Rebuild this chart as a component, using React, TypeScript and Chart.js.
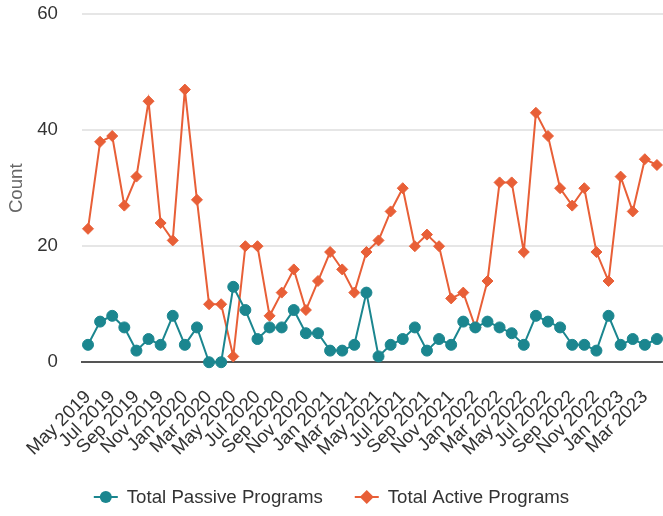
import React, { useEffect, useRef } from "react";
import { Chart, registerables } from "chart.js";

Chart.register(...registerables);

const months: string[] = [
  "May 2019", "Jun 2019", "Jul 2019", "Aug 2019", "Sep 2019", "Oct 2019", "Nov 2019", "Dec 2019",
  "Jan 2020", "Feb 2020", "Mar 2020", "Apr 2020", "May 2020", "Jun 2020", "Jul 2020", "Aug 2020",
  "Sep 2020", "Oct 2020", "Nov 2020", "Dec 2020", "Jan 2021", "Feb 2021", "Mar 2021", "Apr 2021",
  "May 2021", "Jun 2021", "Jul 2021", "Aug 2021", "Sep 2021", "Oct 2021", "Nov 2021", "Dec 2021",
  "Jan 2022", "Feb 2022", "Mar 2022", "Apr 2022", "May 2022", "Jun 2022", "Jul 2022", "Aug 2022",
  "Sep 2022", "Oct 2022", "Nov 2022", "Dec 2022", "Jan 2023", "Feb 2023", "Mar 2023", "Apr 2023",
];

const passive: number[] = [
  3, 7, 8, 6, 2, 4, 3, 8, 3, 6, 0, 0, 13, 9, 4, 6,
  6, 9, 5, 5, 2, 2, 3, 12, 1, 3, 4, 6, 2, 4, 3, 7,
  6, 7, 6, 5, 3, 8, 7, 6, 3, 3, 2, 8, 3, 4, 3, 4,
];

const active: number[] = [
  23, 38, 39, 27, 32, 45, 24, 21, 47, 28, 10, 10, 1, 20, 20, 8,
  12, 16, 9, 14, 19, 16, 12, 19, 21, 26, 30, 20, 22, 20, 11, 12,
  6, 14, 31, 31, 19, 43, 39, 30, 27, 30, 19, 14, 32, 26, 35, 34,
];

const yTicks: number[] = [0, 20, 40, 60];

const PASSIVE_COLOR = "#1b868f";
const ACTIVE_COLOR = "#e85f37";
const FONT = "'Liberation Sans', Arial, sans-serif";
const FS = 18.67;

const legendPlugin = {
  id: "lineMarkerLegend",
  afterDraw(chart: any) {
    const ctx = chart.ctx as CanvasRenderingContext2D;
    const items = chart.data.datasets.map((ds: any) => ({
      text: ds.label as string,
      color: ds.borderColor as string,
      style: ds.pointStyle as string,
    }));
    ctx.save();
    ctx.font = `${FS}px ${FONT}`;
    const iconW = 24;
    const gapText = 9;
    const gapItems = 32;
    const widths = items.map((it: any) => iconW + gapText + ctx.measureText(it.text).width);
    const total = widths.reduce((a: number, b: number) => a + b, 0) + gapItems * (items.length - 1);
    let x = (chart.width - total) / 2;
    const y = 497;
    items.forEach((it: any, i: number) => {
      ctx.strokeStyle = it.color;
      ctx.fillStyle = it.color;
      ctx.lineWidth = 2;
      ctx.beginPath();
      ctx.moveTo(x, y);
      ctx.lineTo(x + iconW, y);
      ctx.stroke();
      const cx = x + iconW / 2;
      ctx.beginPath();
      if (it.style === "circle") {
        ctx.arc(cx, y, 6, 0, Math.PI * 2);
      } else {
        ctx.moveTo(cx, y - 7);
        ctx.lineTo(cx + 7, y);
        ctx.lineTo(cx, y + 7);
        ctx.lineTo(cx - 7, y);
        ctx.closePath();
      }
      ctx.fill();
      ctx.fillStyle = "#333333";
      ctx.textBaseline = "middle";
      ctx.textAlign = "left";
      ctx.fillText(it.text, x + iconW + gapText, y + 1);
      x += widths[i] + gapItems;
    });
    ctx.restore();
  },
};

export default function App() {
  const ref = useRef<HTMLCanvasElement | null>(null);

  useEffect(() => {
    if (!ref.current) return;
    const chart = new Chart(ref.current, {
      type: "line",
      data: {
        labels: months,
        datasets: [
          {
            label: "Total Passive Programs",
            data: passive,
            borderColor: PASSIVE_COLOR,
            backgroundColor: PASSIVE_COLOR,
            borderWidth: 2,
            pointStyle: "circle",
            pointRadius: 5.5,
            pointBorderWidth: 1,
            pointHoverRadius: 5.5,
            tension: 0,
            clip: false,
          },
          {
            label: "Total Active Programs",
            data: active,
            borderColor: ACTIVE_COLOR,
            backgroundColor: ACTIVE_COLOR,
            borderWidth: 2,
            pointStyle: "rectRot",
            pointRadius: 5.5,
            pointBorderWidth: 1,
            pointHoverRadius: 5.5,
            tension: 0,
            clip: false,
          },
        ],
      },
      plugins: [legendPlugin],
      options: {
        animation: false,
        responsive: true,
        maintainAspectRatio: false,
        layout: { autoPadding: false, padding: { top: 0, right: 0, left: 1, bottom: 40 } },
        plugins: {
          tooltip: { enabled: false },
          legend: { display: false },
        },
        scales: {
          x: {
            offset: true,
            grid: { display: false, drawTicks: true, tickLength: 8 },
            border: { display: true, color: "#555555", width: 2 },
            afterFit: (axis: any) => {
              axis.paddingRight = 0;
            },
            ticks: {
              autoSkip: false,
              minRotation: 45,
              maxRotation: 45,
              color: "#333333",
              font: { family: FONT, size: FS },
              padding: 16,
              callback: (_v: any, i: number) => (i % 2 === 0 ? months[i] : ""),
            },
          },
          y: {
            min: 0,
            max: 60,
            afterBuildTicks: (axis: any) => {
              axis.ticks = yTicks.map((v) => ({ value: v }));
            },
            grid: {
              color: (ctx: any) => (ctx.tick && ctx.tick.value === 0 ? "rgba(0,0,0,0)" : "#e6e6e6"),
              lineWidth: 2,
              drawTicks: true,
              tickLength: 21,
              tickColor: "rgba(0,0,0,0)",
            },
            border: { display: false },
            ticks: {
              color: "#333333",
              font: { family: FONT, size: FS },
              padding: 3,
            },
            title: {
              display: true,
              text: "Count",
              color: "#666666",
              font: { family: FONT, size: FS },
              padding: { top: 4.8, bottom: 6 },
            },
          },
        },
      },
    });
    return () => chart.destroy();
  }, []);

  return (
    <div style={{ position: "fixed", left: 0, top: 0, width: 663, height: 516 }}>
      <canvas ref={ref} />
    </div>
  );
}
